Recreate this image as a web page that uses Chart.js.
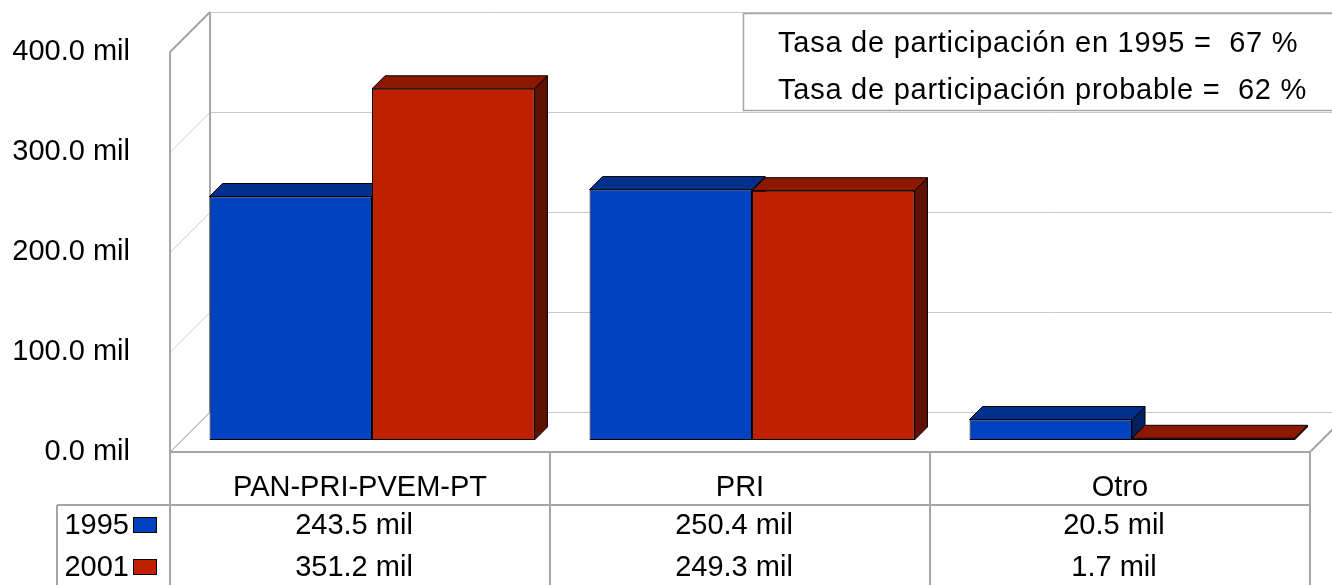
<!DOCTYPE html>
<html>
<head>
<meta charset="utf-8">
<script src="https://cdn.jsdelivr.net/npm/chart.js@4/dist/chart.umd.min.js"></script>
<style>
  html, body { margin: 0; padding: 0; background: #fff; }
  #marco { width: 1332px; height: 585px; }
</style>
</head>
<body>
<div id="marco"><canvas id="grafico"></canvas></div>
<script>
// Datos (miles de votos)
const categorias = ['PAN-PRI-PVEM-PT', 'PRI', 'Otro'];
const series = ['1995', '2001'];
const votos1995 = [243.5, 250.4, 20.5];
const votos2001 = [351.2, 249.3, 1.7];
const ejeY = { min: 0, max: 400, paso: 100 };
const tasas = [
    'Tasa de participación en 1995 =  67 %',
    'Tasa de participación probable =  62 %'
];

// Estilo
const FUENTE = "'Liberation Sans', Arial, sans-serif";
const TAM = 29;
const colores = {
    frente: ['rgb(0,65,190)', 'rgb(190,32,0)'],
    tapa:   ['rgb(0,48,140)', 'rgb(140,24,0)'],
    lado:   ['rgb(0,32,96)',  'rgb(96,16,0)']
};
const GRIS = '#a6a6a6';
const GRIS_CLARO = '#c8c8c8';

// Profundidad 3D: plano frontal, pared del fondo y grosor de barra
const F = 12, B = 28, P = 13;

const fmt = v => v.toFixed(1) + ' mil';

const escena3D = {
    id: 'escena3D',
    beforeDatasetsDraw(chart) {
        const { ctx, chartArea: a, scales: { x, y } } = chart;
        const W = chart.width;
        const izqF = a.left - F, izqB = a.left + B;
        const derF = a.right - F;
        ctx.save();

        // rejilla de la pared del fondo y pared izquierda
        y.ticks.forEach(t => {
            const py = y.getPixelForValue(t.value);
            ctx.strokeStyle = GRIS_CLARO;
            ctx.lineWidth = 1;
            ctx.beginPath();
            ctx.moveTo(izqF, py + F + 0.5);
            ctx.lineTo(izqB, py - B + 0.5);
            ctx.lineTo(W, py - B + 0.5);
            ctx.stroke();
        });

        // aristas verticales
        const yMax = y.getPixelForValue(y.max), y0 = y.getPixelForValue(0);
        ctx.strokeStyle = GRIS;
        ctx.lineWidth = 2;
        ctx.beginPath();
        ctx.moveTo(izqF, yMax + F);
        ctx.lineTo(izqF, chart.height);
        ctx.moveTo(izqB, yMax - B);
        ctx.lineTo(izqB, y0 - B);
        ctx.moveTo(izqF, yMax + F);
        ctx.lineTo(izqB, yMax - B);
        ctx.stroke();

        // borde frontal del suelo
        ctx.beginPath();
        ctx.moveTo(izqF, y0 + F);
        ctx.lineTo(derF, y0 + F);
        ctx.lineTo(derF + F + B, y0 - B);
        ctx.stroke();
        ctx.lineWidth = 1;
        ctx.beginPath();
        ctx.moveTo(izqF, y0 + F);
        ctx.lineTo(izqB, y0 - B);
        ctx.stroke();

        // caras superior y lateral de cada barra
        chart.data.datasets.forEach((ds, i) => {
            chart.getDatasetMeta(i).data.forEach(bar => {
                const { x: cx, y: top, base, width } = bar.getProps(['x', 'y', 'base', 'width'], true);
                const x1 = cx - width / 2, x2 = cx + width / 2;
                ctx.strokeStyle = '#000';
                ctx.lineWidth = 1;
                ctx.fillStyle = colores.lado[i];
                ctx.beginPath();
                ctx.moveTo(x2, top);
                ctx.lineTo(x2 + P, top - P);
                ctx.lineTo(x2 + P, base - P);
                ctx.lineTo(x2, base);
                ctx.closePath();
                ctx.fill();
                ctx.stroke();
                ctx.fillStyle = colores.tapa[i];
                ctx.beginPath();
                ctx.moveTo(x1, top);
                ctx.lineTo(x2, top);
                ctx.lineTo(x2 + P, top - P);
                ctx.lineTo(x1 + P, top - P);
                ctx.closePath();
                ctx.fill();
                ctx.stroke();
            });
        });
        ctx.restore();
    },
    afterDraw(chart) {
        const { ctx, chartArea: a, scales: { x, y } } = chart;
        const y0 = y.getPixelForValue(0) + F;
        const anchoCat = a.width / categorias.length;
        const filaTop = 505, filaH = 42, izqLeyenda = 57;
        ctx.save();

        // líneas de la tabla
        ctx.strokeStyle = GRIS;
        ctx.lineWidth = 2;
        ctx.beginPath();
        for (let i = 1; i <= categorias.length; i++) {
            const bx = a.left + i * anchoCat - F;
            ctx.moveTo(bx, y0);
            ctx.lineTo(bx, chart.height);
        }
        ctx.moveTo(izqLeyenda, filaTop);
        ctx.lineTo(a.right - F, filaTop);
        ctx.moveTo(izqLeyenda, filaTop);
        ctx.lineTo(izqLeyenda, chart.height);
        ctx.stroke();

        // valores y leyenda
        ctx.font = TAM + 'px ' + FUENTE;
        ctx.fillStyle = '#000';
        ctx.textBaseline = 'middle';
        [votos1995, votos2001].forEach((serie, s) => {
            const cy = filaTop + filaH * s + filaH / 2;
            ctx.textAlign = 'right';
            ctx.fillStyle = '#000';
            ctx.fillText(series[s], 129, cy);
            ctx.fillStyle = colores.frente[s];
            ctx.fillRect(133.5, cy - 8.5, 23, 15);
            ctx.strokeStyle = '#000';
            ctx.lineWidth = 1;
            ctx.strokeRect(133.5, cy - 8.5, 23, 15);
            ctx.fillStyle = '#000';
            ctx.textAlign = 'center';
            serie.forEach((v, i) => {
                ctx.fillText(fmt(v), x.getPixelForValue(i) - F - 6, cy);
            });
        });

        // cuadro de tasas de participación
        ctx.fillStyle = '#fff';
        ctx.fillRect(743, 13, 600, 97);
        ctx.strokeStyle = GRIS;
        ctx.lineWidth = 1.5;
        ctx.strokeRect(743.5, 13.5, 600, 97);
        ctx.fillStyle = '#000';
        ctx.textAlign = 'left';
        ctx.letterSpacing = '0.75px';
        tasas.forEach((t, i) => ctx.fillText(t, 778, 44 + i * 47));
        ctx.restore();
    }
};

new Chart(document.getElementById('grafico'), {
    type: 'bar',
    data: {
        labels: categorias,
        datasets: [
            { label: series[0], data: votos1995, backgroundColor: colores.frente[0] },
            { label: series[1], data: votos2001, backgroundColor: colores.frente[1] }
        ]
    },
    options: {
        responsive: true,
        maintainAspectRatio: false,
        animation: false,
        layout: { padding: { left: 0, top: 40, right: 10, bottom: 0 } },
        datasets: {
            bar: {
                borderColor: '#000',
                borderWidth: 1,
                borderSkipped: false,
                categoryPercentage: 0.855,
                barPercentage: 1
            }
        },
        plugins: {
            legend: { display: false },
            tooltip: { enabled: false }
        },
        scales: {
            x: {
                grid: { display: false, drawTicks: false },
                border: { display: false },
                ticks: {
                    color: '#000',
                    font: { family: FUENTE, size: TAM },
                    padding: 31,
                    labelOffset: -F,
                    maxRotation: 0
                },
                afterFit(s) { s.height = 145; s.paddingLeft = 0; s.paddingRight = 0; }
            },
            y: {
                min: ejeY.min,
                max: ejeY.max,
                grid: { display: false, drawTicks: false },
                border: { display: false },
                ticks: {
                    stepSize: ejeY.paso,
                    color: '#000',
                    font: { family: FUENTE, size: TAM },
                    padding: 52,
                    labelOffset: F,
                    callback: v => fmt(v)
                },
                afterFit(s) { s.width = 182; s.paddingTop = 0; s.paddingBottom = 0; }
            }
        }
    },
    plugins: [escena3D]
});
</script>
</body>
</html>
